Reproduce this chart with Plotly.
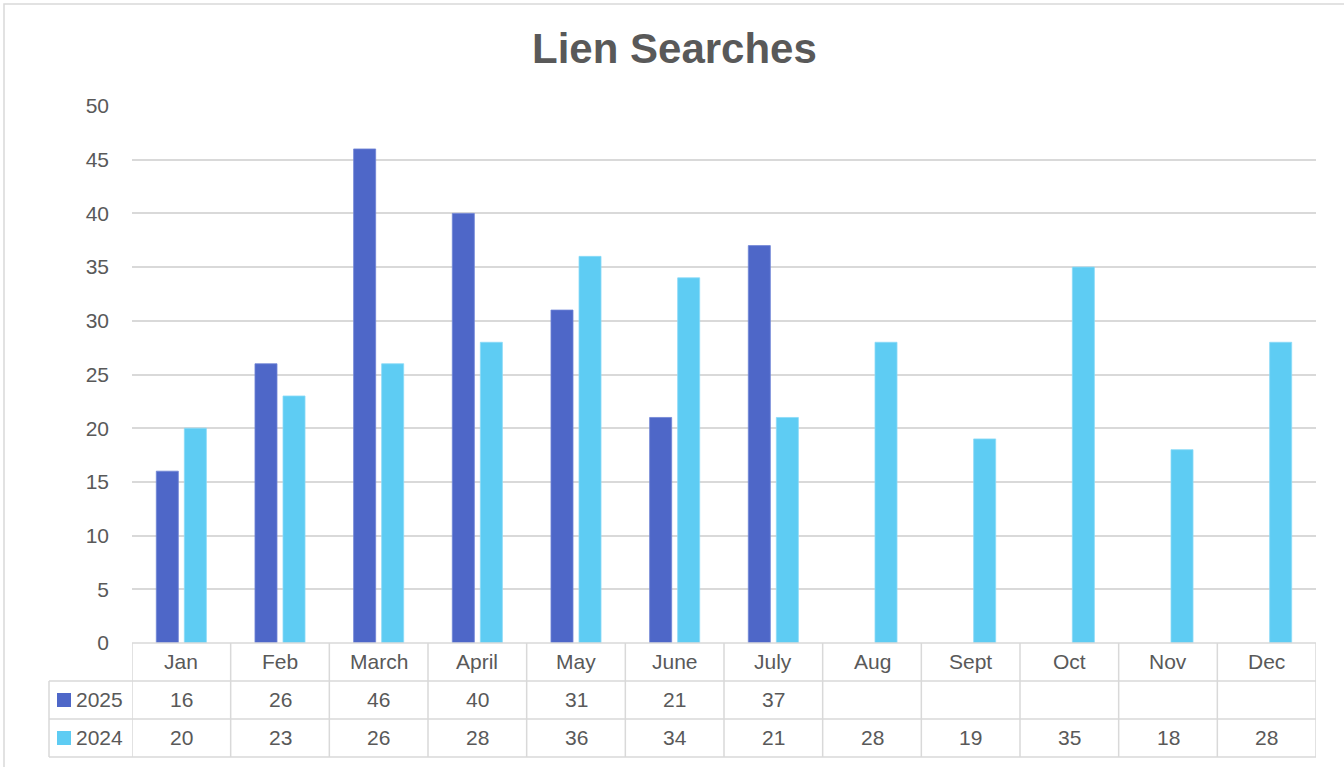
import plotly.graph_objects as go

# ---- data ----
months = ["Jan", "Feb", "March", "April", "May", "June", "July",
          "Aug", "Sept", "Oct", "Nov", "Dec"]
series_names = ["2025", "2024"]
values_2025 = [16, 26, 46, 40, 31, 21, 37, None, None, None, None, None]
values_2024 = [20, 23, 26, 28, 36, 34, 21, 28, 19, 35, 18, 28]
y_ticks = [0, 5, 10, 15, 20, 25, 30, 35, 40, 45, 50]
title_text = "Lien Searches"

# ---- style ----
W, H = 1344, 767
# plot area in screen pixels
PL, PR, PT, PB = 132, 1316, 106, 643
C25, C24 = "#4E67C8", "#5ECCF3"
GRID = "#D9D9D9"
TXT = "#595959"
FONT = "Liberation Sans"

plot_h = PB - PT
plot_w = PR - PL


def py(pix):
    """screen pixel y -> paper y"""
    return (PB - pix) / plot_h


def px(pix):
    """screen pixel x -> paper x"""
    return (pix - PL) / plot_w


fig = go.Figure()
idx = list(range(len(months)))
fig.add_trace(go.Bar(x=idx, y=values_2025, name=series_names[0],
                     marker=dict(color=C25, line=dict(color="#6F84D6", width=0.8))))
fig.add_trace(go.Bar(x=idx, y=values_2024, name=series_names[1],
                     marker=dict(color=C24, line=dict(color="#8ADBF7", width=0.8))))

shapes = []
annotations = []
line = dict(color=GRID, width=1.5)

# horizontal table lines
shapes.append(dict(type="line", xref="paper", yref="paper",
                   x0=0, x1=1, y0=py(PB), y1=py(PB), line=line))
for yy in (681, 719, 757):
    shapes.append(dict(type="line", xref="paper", yref="paper",
                       x0=px(49), x1=1, y0=py(yy), y1=py(yy), line=line))
# vertical table lines
shapes.append(dict(type="line", xref="paper", yref="paper",
                   x0=px(49), x1=px(49), y0=py(681), y1=py(757), line=line))
for k in range(len(months) + 1):
    shapes.append(dict(type="line", xref="x", yref="paper",
                       x0=k - 0.5, x1=k - 0.5, y0=py(PB), y1=py(757), line=line))

cell_font = dict(family=FONT, size=21, color=TXT)
# header row and values
for i, m in enumerate(months):
    annotations.append(dict(x=i, y=py(661.5), xref="x", yref="paper", text=m,
                            xanchor="center", yanchor="middle",
                            showarrow=False, font=cell_font))
    for vals, yc in ((values_2025, 699.5), (values_2024, 737.5)):
        v = vals[i]
        if v is not None:
            annotations.append(dict(x=i, y=py(yc), xref="x", yref="paper", text=str(v),
                                    xanchor="center", yanchor="middle",
                                    showarrow=False, font=cell_font))

# legend keys in table
for name, col, yc in ((series_names[0], C25, 700), (series_names[1], C24, 738)):
    shapes.append(dict(type="rect", xref="paper", yref="paper",
                       x0=px(57), x1=px(71), y0=py(yc - 7), y1=py(yc + 7),
                       fillcolor=col, line=dict(width=0)))
    annotations.append(dict(x=px(74), y=py(yc - 0.5), xref="paper", yref="paper", text=name,
                            xanchor="left", yanchor="middle", showarrow=False,
                            font=cell_font))

# outer chart border (top and left visible)
shapes.append(dict(type="rect", xref="paper", yref="paper",
                   x0=px(4), x1=px(1400), y0=py(800), y1=py(4),
                   line=dict(color=GRID, width=1.5), fillcolor="rgba(0,0,0,0)"))

# title
annotations.append(dict(x=px(674), y=py(49), xref="paper", yref="paper",
                        text="<b>" + title_text + "</b>", showarrow=False,
                        xanchor="center", yanchor="middle",
                        font=dict(family=FONT, size=42, color=TXT)))

fig.update_layout(
    width=W, height=H,
    margin=dict(l=PL, r=W - PR, t=PT, b=H - PB, pad=0),
    paper_bgcolor="white", plot_bgcolor="white",
    showlegend=False,
    barmode="group", bargap=0.432, bargroupgap=0.214,
    xaxis=dict(range=[-0.5, len(months) - 0.5], showticklabels=False,
               showgrid=False, zeroline=False, showline=False, fixedrange=True),
    yaxis=dict(range=[0, 50], tickvals=y_ticks, showgrid=True, gridcolor=GRID,
               gridwidth=1.5, zeroline=False, showline=False,
               ticks="", ticklabelstandoff=22,
               tickfont=dict(family=FONT, size=21, color=TXT)),
    shapes=shapes, annotations=annotations,
)

fig.write_html("out.html",
               config={"displayModeBar": False},
               post_script="document.body.style.margin='0';"
                           "document.body.style.overflow='hidden';")
